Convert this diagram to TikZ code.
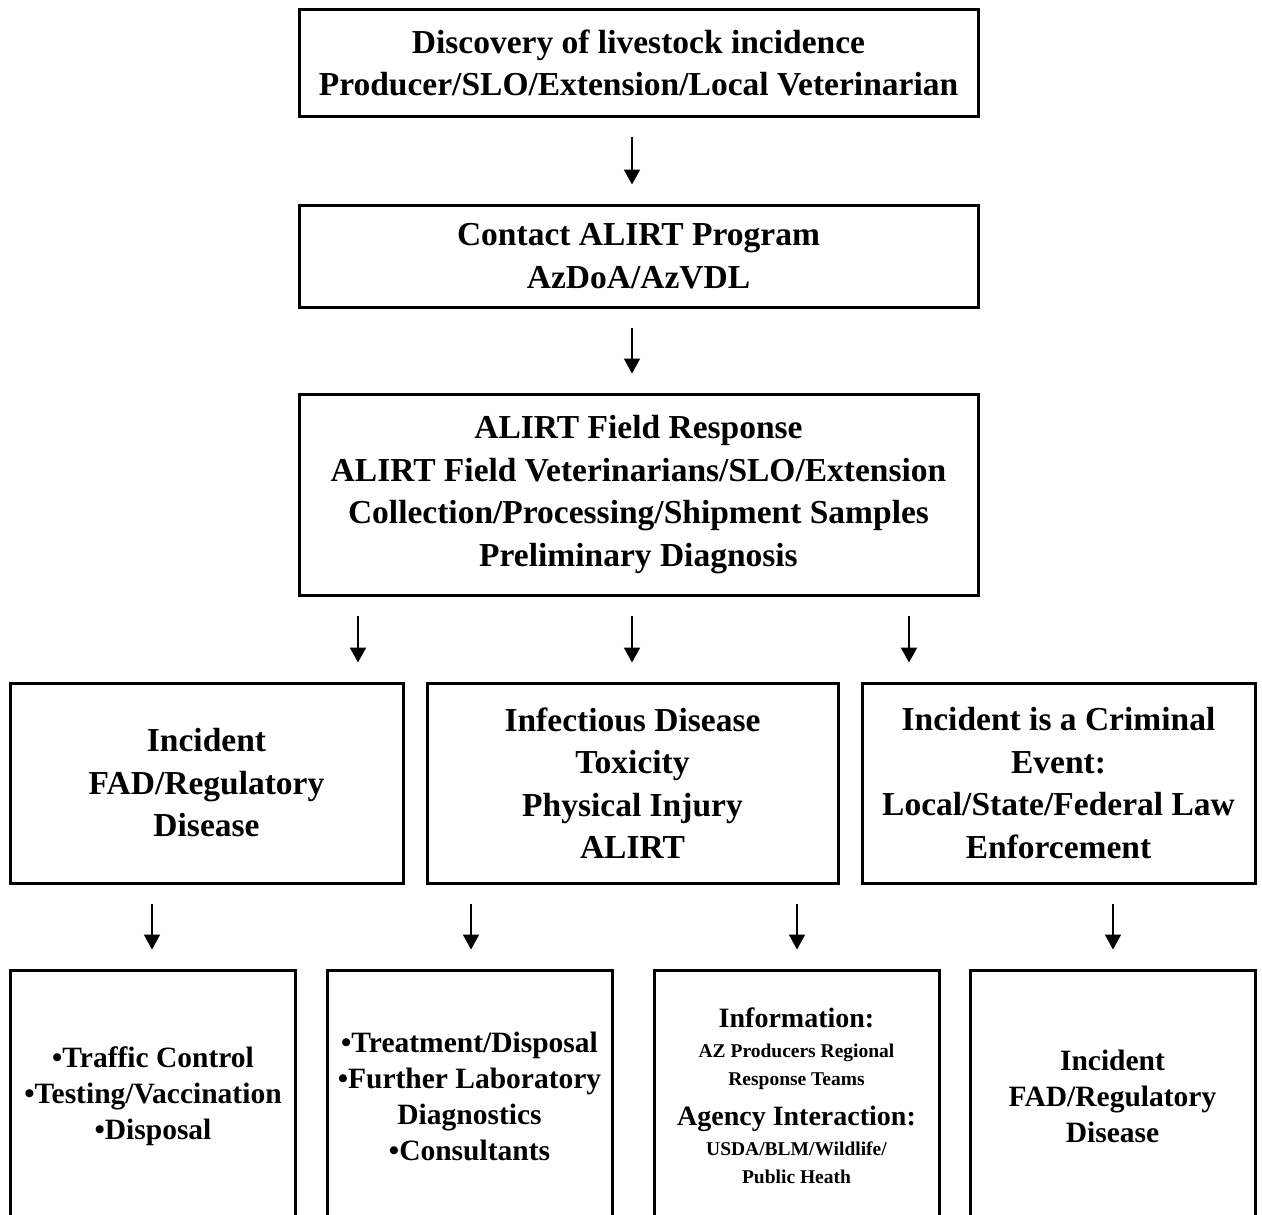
\documentclass[tikz,border=0pt]{standalone}
\usepackage{fontspec}
\setmainfont{Liberation Serif}
\usetikzlibrary{arrows.meta}
\newcommand\myBig{\fontsize{33.5}{42.5}\selectfont\bfseries}
\newcommand\myMid{\fontsize{29.5}{36}\selectfont\bfseries}
\newcommand\myInfo{\fontsize{28}{36}\selectfont\bfseries}
\newcommand\mySmall{\fontsize{19.5}{28}\selectfont\bfseries}
\tikzset{
  box/.style={draw, line width=3pt, inner sep=0pt, align=center, font=\myBig},
  wide/.style={box, minimum width=679pt},
  rowbox/.style={box, minimum height=200pt},
  dbox/.style={box, font=\myMid, minimum width=285pt, minimum height=252pt},
  arr/.style={line width=2pt, -{Triangle[width=16pt,length=15pt]}, shorten <=19pt, shorten >=19pt},
}
\begin{document}
\begin{tikzpicture}[x=1pt, y=-1pt]
\useasboundingbox (0,0) rectangle (1262,1215);
% top chain
\node[wide, minimum height=106pt] (b1) at (638.5,63) {Discovery of livestock incidence\\Producer/SLO/Extension/Local Veterinarian};
\node[wide, minimum height=102pt] (b2) at (638.5,256) {Contact ALIRT Program\\AzDoA/AzVDL};
\node[wide, minimum height=201pt] (b3) at (638.5,494.5) {ALIRT Field Response\\ALIRT Field Veterinarians/SLO/Extension\\Collection/Processing/Shipment Samples\\Preliminary Diagnosis};
% middle row
\node[rowbox, minimum width=393pt] (rA) at (206.5,783) {Incident\\FAD/Regulatory\\Disease};
\node[rowbox, minimum width=411pt] (rB) at (632.5,783) {Infectious Disease\\Toxicity\\Physical Injury\\ALIRT};
\node[rowbox, minimum width=393pt] (rC) at (1058.5,783) {Incident is a Criminal\\Event:\\Local/State/Federal Law\\Enforcement};
% bottom row (cut off by the page edge)
\node[dbox] (dA) at (153,1096) {\textbullet Traffic Control\\\textbullet Testing/Vaccination\\\textbullet Disposal};
\node[dbox] (dB) at (469.5,1096) {\textbullet Treatment/Disposal\\\textbullet Further Laboratory\\Diagnostics\\\textbullet Consultants};
\node[dbox] (dC) at (796.5,1096) {\begin{minipage}{280pt}\centering
  \myInfo Information:\par
  \vspace{2pt}\mySmall AZ Producers Regional\\Response Teams\par
  \vspace{4pt}\myInfo Agency Interaction:\par
  \vspace{2pt}\mySmall USDA/BLM/Wildlife/\\Public Heath\par
  \end{minipage}};
\node[dbox] (dD) at (1112.5,1096) {Incident\\FAD/Regulatory\\Disease};
% arrow columns
\coordinate (c1) at (632,0);
\coordinate (cA) at (358,0);
\coordinate (cC) at (909,0);
\coordinate (e1) at (152,0);
\coordinate (e2) at (471,0);
\coordinate (e3) at (797,0);
\coordinate (e4) at (1113,0);
% arrows
\draw[arr] (b1.south -| c1) -- (b2.north -| c1);
\draw[arr] (b2.south -| c1) -- (b3.north -| c1);
\draw[arr] (b3.south -| cA) -- (rA.north -| cA);
\draw[arr] (b3.south -| c1) -- (rB.north -| c1);
\draw[arr] (b3.south -| cC) -- (rC.north -| cC);
\draw[arr] (rA.south -| e1) -- (dA.north -| e1);
\draw[arr] (rB.south -| e2) -- (dB.north -| e2);
\draw[arr] (rB.south -| e3) -- (dC.north -| e3);
\draw[arr] (rC.south -| e4) -- (dD.north -| e4);
\end{tikzpicture}
\end{document}
